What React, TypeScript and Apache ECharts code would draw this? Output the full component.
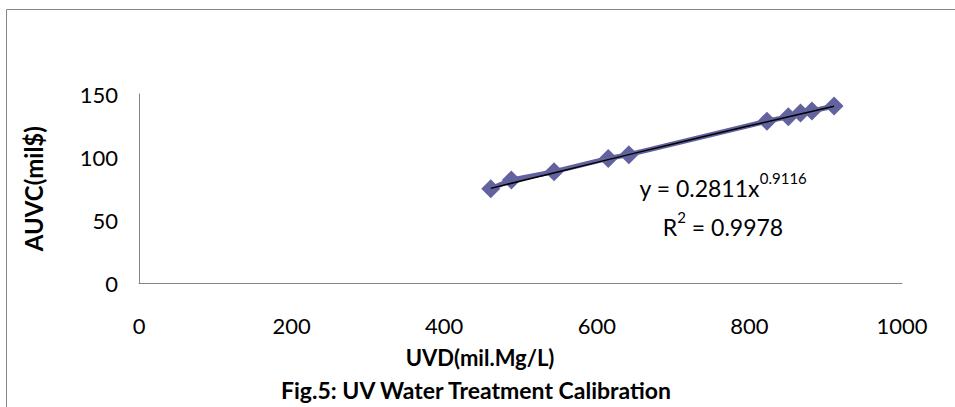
import React, { useEffect, useRef } from "react";
import * as echarts from "echarts";

const uvd = [461, 488, 544, 615, 642, 823, 851, 867, 882, 911];
const auvc = [75, 82, 88.5, 99, 102, 128.5, 132, 135, 136.5, 140.5];
const trendX = [461, 550, 650, 750, 850, 911];
const trendY = [75.3, 88.5, 103.2, 117.7, 131.8, 140.3];
const xTicks = { min: 0, max: 1000, interval: 200 };
const yTicks = { min: 0, max: 150, interval: 50 };

const FONT = "Lato, 'Open Sans', sans-serif";
const PURPLE = "#62629E";
const AXIS = "#868686";

export default function App() {
  const ref = useRef<HTMLDivElement>(null);
  useEffect(() => {
    document.body.style.margin = "0";
    if (!ref.current) return;
    const chart = echarts.init(ref.current, undefined, { renderer: "svg" });
    const points = uvd.map((x, i) => [x, auvc[i]]);
    const trend = trendX.map((x, i) => [x, trendY[i]]);
    chart.setOption({
      animation: false,
      backgroundColor: "#ffffff",
      textStyle: { fontFamily: FONT },
      grid: {
        left: 139,
        top: 94,
        right: 53,
        bottom: 123.5,
        containLabel: false,
        outerBoundsMode: "none",
      },
      xAxis: {
        type: "value",
        min: xTicks.min,
        max: xTicks.max,
        interval: xTicks.interval,
        axisLine: { show: true, lineStyle: { color: AXIS, width: 1 } },
        axisTick: { show: false },
        splitLine: { show: false },
        axisLabel: {
          color: "#000",
          fontSize: 22,
          fontFamily: FONT,
          margin: 31,
          formatter: (v: number) => String(v),
        },
      },
      yAxis: {
        type: "value",
        min: yTicks.min,
        max: yTicks.max,
        interval: yTicks.interval,
        axisLine: { show: true, lineStyle: { color: AXIS, width: 1 } },
        axisTick: { show: false },
        splitLine: { show: false },
        axisLabel: {
          color: "#000",
          fontSize: 22,
          fontFamily: FONT,
          margin: 21,
          formatter: (v: number) => String(v),
        },
        name: "AUVC(mil$)",
        nameLocation: "middle",
        nameRotate: 90,
        nameGap: 94,
        nameTextStyle: { color: "#000", fontSize: 24, fontWeight: "bold", fontFamily: FONT },
      },
      series: [
        {
          type: "line",
          data: points,
          symbol: "diamond",
          symbolSize: 19,
          itemStyle: { color: PURPLE },
          lineStyle: { color: PURPLE, width: 5 },
          z: 2,
        },
        {
          type: "line",
          data: trend,
          symbol: "none",
          smooth: true,
          lineStyle: { color: "#000", width: 1.5 },
          z: 3,
        },
      ],
      graphic: [
        {
          type: "rect",
          shape: { x: 6.5, y: 9.5, width: 1000, height: 500 },
          style: { fill: "none", stroke: AXIS, lineWidth: 1 },
          silent: true,
        },
        {
          type: "text",
          x: 723,
          y: 188,
          style: {
            text: "{a|y = 0.2811x}{s|0.9116}",
            align: "center",
            verticalAlign: "middle",
            rich: {
              a: { fontSize: 23, fontFamily: FONT, fill: "#000", lineHeight: 36 },
              s: { fontSize: 15, fontFamily: FONT, fill: "#000", lineHeight: 14, verticalAlign: "top" },
            },
          },
        },
        {
          type: "text",
          x: 723,
          y: 227,
          style: {
            text: "{a|R}{s|2}{a| = 0.9978}",
            align: "center",
            verticalAlign: "middle",
            rich: {
              a: { fontSize: 23, fontFamily: FONT, fill: "#000", lineHeight: 36 },
              s: { fontSize: 15, fontFamily: FONT, fill: "#000", lineHeight: 14, verticalAlign: "top" },
            },
          },
        },
        {
          type: "text",
          x: 480,
          y: 357,
          style: {
            text: "UVD(mil.Mg/L)",
            align: "center",
            verticalAlign: "middle",
            fontSize: 22,
            fontWeight: "bold",
            fontFamily: FONT,
            fill: "#000",
          },
        },
        {
          type: "text",
          x: 476,
          y: 390,
          style: {
            text: "Fig.5: UV Water Treatment Calibration",
            align: "center",
            verticalAlign: "middle",
            fontSize: 23,
            fontWeight: "bold",
            fontFamily: FONT,
            fill: "#000",
          },
        },
      ],
    });
    return () => chart.dispose();
  }, []);
  return <div ref={ref} style={{ width: 955, height: 407 }} />;
}
